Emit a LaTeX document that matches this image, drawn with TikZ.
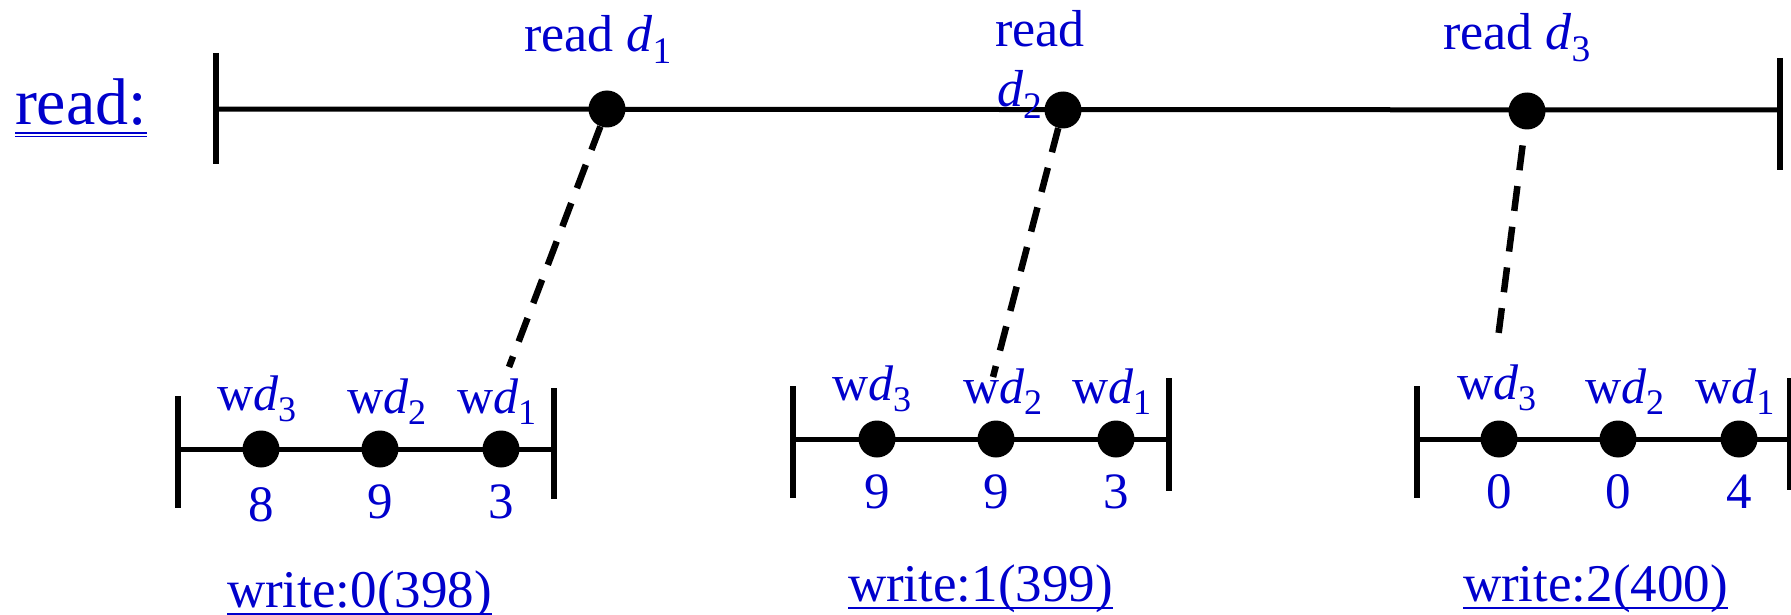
\documentclass[tikz,border=0pt]{standalone}
\usepackage{fontspec}
\usepackage{graphicx}
\setmainfont{Liberation Serif}
\definecolor{tblue}{RGB}{0,0,204}
\newcommand\dsub[1]{\textit{d}\raisebox{-0.22em}{\scalebox{0.72}{#1}}}
\begin{document}
\begin{tikzpicture}[x=1pt,y=-1pt,
  lbl/.style={inner sep=0pt, outer sep=0pt, text=tblue, anchor=base west},
  rlbl/.style={lbl, font=\fontsize{52}{58}\selectfont},
  wlbl/.style={lbl, font=\fontsize{50}{56}\selectfont},
  num/.style={inner sep=0pt, outer sep=0pt, text=tblue, anchor=base, font=\fontsize{51}{56}\selectfont},
  ttl/.style={lbl, font=\fontsize{53}{58}\selectfont},
  dot/.style={circle, fill=black, inner sep=0pt, minimum size=37pt},
  axis/.style={line width=5pt},
  tickline/.style={line width=6.5pt},
  conn/.style={line width=6.5pt, dash pattern=on 25pt off 16pt},
  uline/.style={tblue, line width=2.2pt},
]
\useasboundingbox (0,0) rectangle (1791,615);

% ---------- read timeline ----------
\node[lbl, font=\fontsize{66}{72}\selectfont] (readlbl) at (15,125) {read:};
\draw[tblue, line width=1.6pt] ([yshift=-8pt]readlbl.base west) -- ([yshift=-8pt]readlbl.base east);
\draw[tblue, line width=1.6pt] ([yshift=-11.5pt]readlbl.base west) -- ([yshift=-11.5pt]readlbl.base east);

\coordinate (mLt) at (216,53);
\coordinate (mLb) at (216,164);
\coordinate (mRt) at (1780,58);
\coordinate (mRb) at (1780,170);
\coordinate (mL) at (216,109);
\coordinate (mR) at (1780,110);
\draw[tickline] (mLt) -- (mLb);
\draw[tickline] (mRt) -- (mRb);
\draw[axis] (mL) -- (mR);

\node[dot] (r1) at (607,109) {};
\node[dot] (r2) at (1063,110) {};
\node[dot] (r3) at (1527,111) {};

\node[rlbl] (rl1) at (524,52) {read \dsub{1}};
\node[rlbl] (rl2) at (995,47) {read};
\node[rlbl] (rl2d) at (997,107) {\dsub{2}};
\node[rlbl] (rl3) at (1443,50) {read \dsub{3}};

% ---------- write 0 ----------
\coordinate (aLt) at (178,396);
\coordinate (aLb) at (178,508);
\coordinate (aRt) at (554,388);
\coordinate (aRb) at (554,499);
\coordinate (aL) at (178,449);
\coordinate (aR) at (554,449);
\draw[tickline] (aLt) -- (aLb);
\draw[tickline] (aRt) -- (aRb);
\draw[axis] (aL) -- (aR);
\node[dot] (a3) at (261,449) {};
\node[dot] (a2) at (380,449) {};
\node[dot] (a1) at (501,449) {};
\node[wlbl] (aw3) at (217,410) {w\dsub{3}};
\node[wlbl] (aw2) at (347,413) {w\dsub{2}};
\node[wlbl] (aw1) at (457,413) {w\dsub{1}};
\node[num] (an3) at (261,521) {8};
\node[num] (an2) at (380,518) {9};
\node[num] (an1) at (501,518) {3};
\node[ttl] (wt0) at (227,607) {write:0(398)};
\draw[uline] ([yshift=-7pt]wt0.base west) -- ([yshift=-7pt]wt0.base east);

% ---------- write 1 ----------
\coordinate (bLt) at (793,386);
\coordinate (bLb) at (793,498);
\coordinate (bRt) at (1169,378);
\coordinate (bRb) at (1169,491);
\coordinate (bL) at (793,439);
\coordinate (bR) at (1169,439);
\draw[tickline] (bLt) -- (bLb);
\draw[tickline] (bRt) -- (bRb);
\draw[axis] (bL) -- (bR);
\node[dot] (b3) at (877,439) {};
\node[dot] (b2) at (996,439) {};
\node[dot] (b1) at (1116,439) {};
\node[wlbl] (bw3) at (832,400) {w\dsub{3}};
\node[wlbl] (bw2) at (963,403) {w\dsub{2}};
\node[wlbl] (bw1) at (1072,403) {w\dsub{1}};
\node[num] (bn3) at (877,508) {9};
\node[num] (bn2) at (996,508) {9};
\node[num] (bn1) at (1116,508) {3};
\node[ttl] (wt1) at (848,601) {write:1(399)};
\draw[uline] ([yshift=-7pt]wt1.base west) -- ([yshift=-7pt]wt1.base east);

% ---------- write 2 ----------
\coordinate (cLt) at (1417,386);
\coordinate (cLb) at (1417,498);
\coordinate (cRt) at (1790,378);
\coordinate (cRb) at (1790,490);
\coordinate (cL) at (1417,439);
\coordinate (cR) at (1790,439);
\draw[tickline] (cLt) -- (cLb);
\draw[tickline] (cRt) -- (cRb);
\draw[axis] (cL) -- (cR);
\node[dot] (c3) at (1499,439) {};
\node[dot] (c2) at (1618,439) {};
\node[dot] (c1) at (1739,439) {};
\node[wlbl] (cw3) at (1457,399) {w\dsub{3}};
\node[wlbl] (cw2) at (1585,403) {w\dsub{2}};
\node[wlbl] (cw1) at (1695,403) {w\dsub{1}};
\node[num] (cn3) at (1499,508) {0};
\node[num] (cn2) at (1618,508) {0};
\node[num] (cn1) at (1739,508) {4};
\node[ttl] (wt2) at (1463,601) {write:2(400)};
\draw[uline] ([yshift=-7pt]wt2.base west) -- ([yshift=-7pt]wt2.base east);

% ---------- dashed connectors ----------
\coordinate (e1) at (509,367);
\coordinate (e2) at (993,377);
\coordinate (e3) at (1498,338);
\draw[conn] (r1) -- (e1);
\draw[conn] (r2) -- (e2);
\draw[conn, dash phase=25pt] (r3) -- (e3);
\end{tikzpicture}
\end{document}
